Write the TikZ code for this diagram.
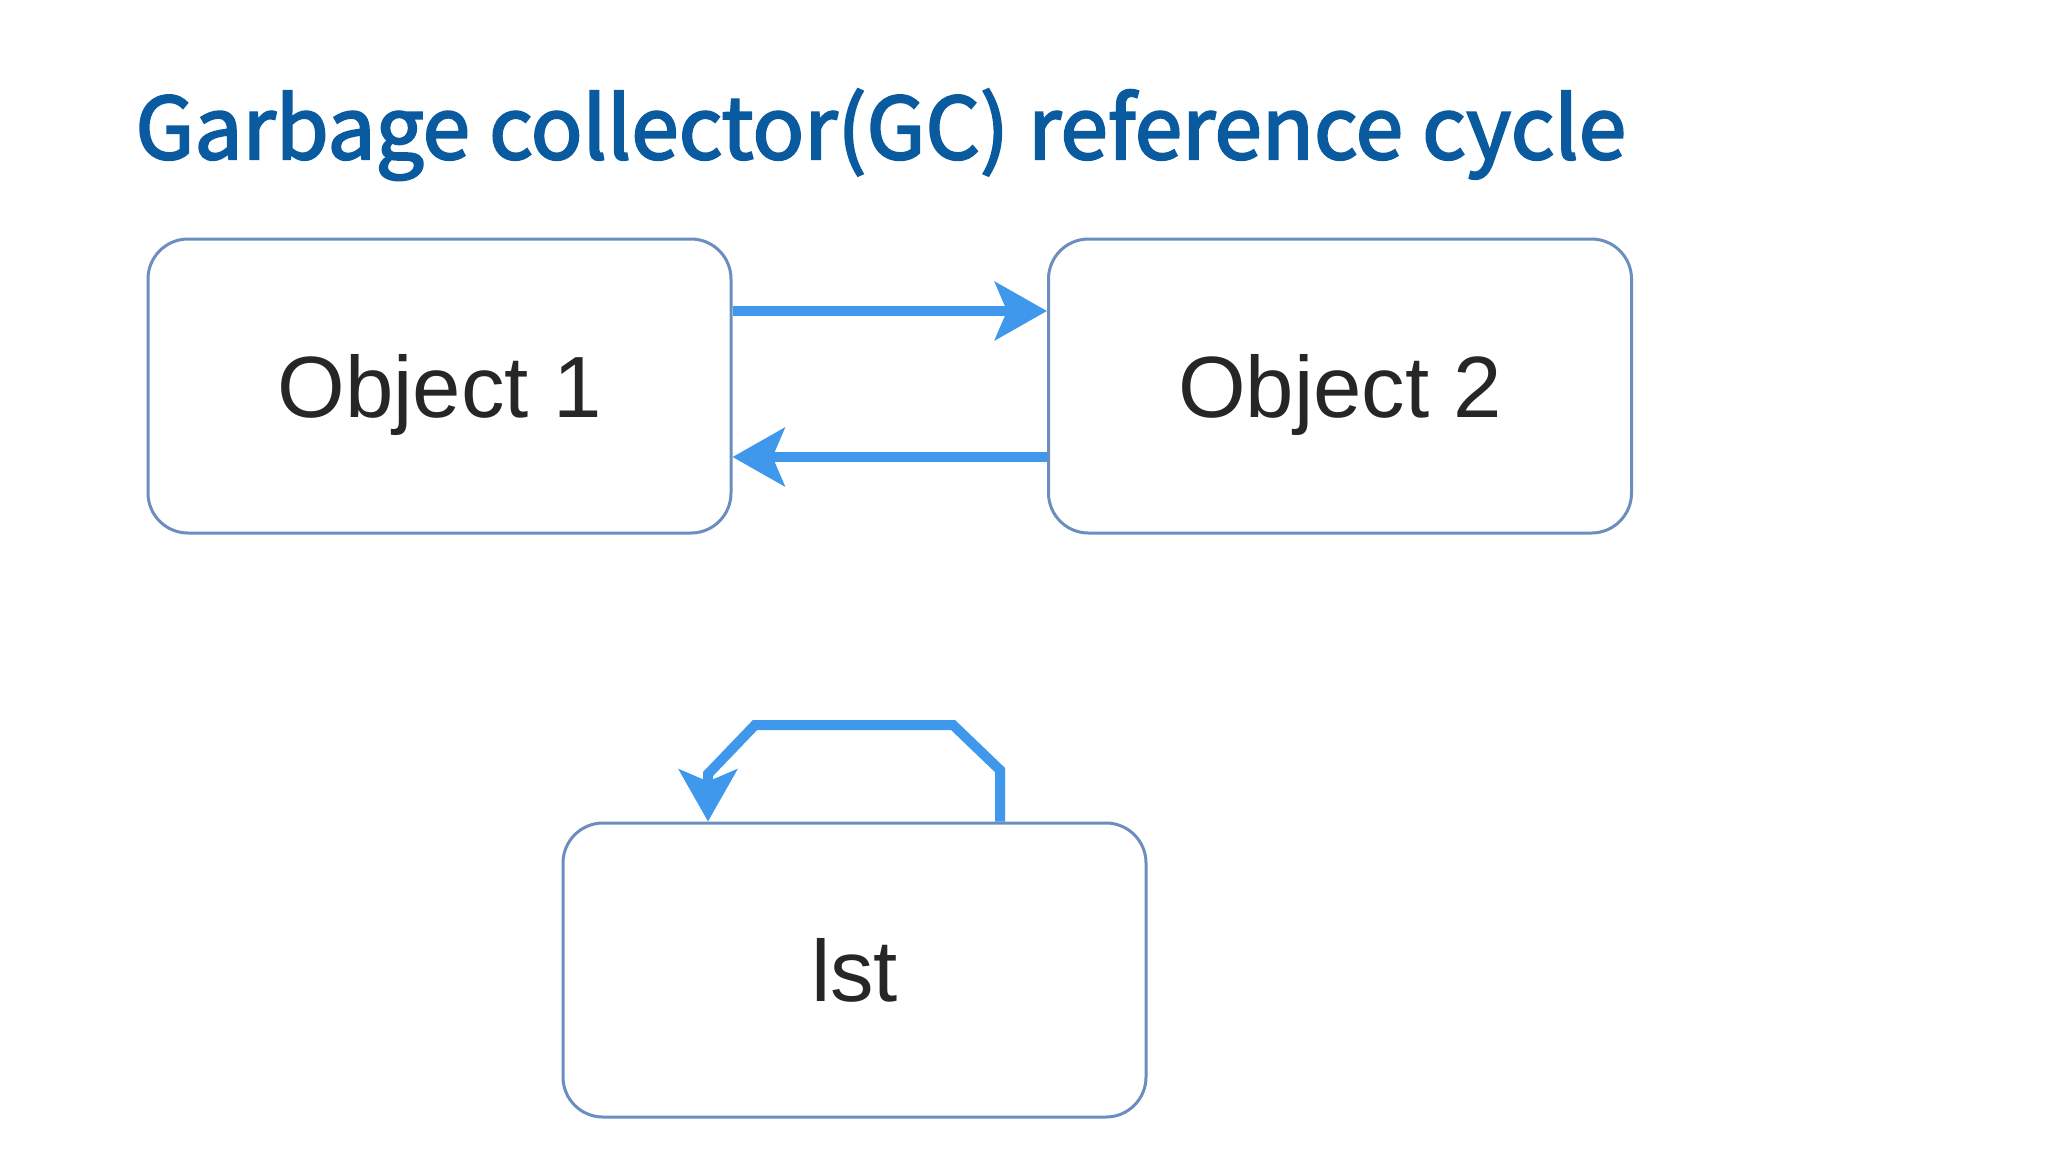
\documentclass[tikz,border=0pt]{standalone}
\usepackage{fontspec}
\setmainfont{Liberation Sans}
\newfontfamily\titlefont[FakeBold=2.5]{Noto Sans CJK KR}
\usetikzlibrary{arrows.meta}
\definecolor{titleblue}{HTML}{0A5AA0}
\definecolor{boxline}{HTML}{6C8EBF}
\definecolor{arrowblue}{HTML}{3F98EC}
\begin{document}
\begin{tikzpicture}[x=0.5pt,y=-0.5pt,
  objbox/.style={draw=boxline,line width=1.5pt,rounded corners=20pt,fill=white,
    minimum width=291.5pt,minimum height=147pt,inner sep=0pt,text height=31pt,text depth=0pt,
    font=\fontsize{43.5}{50}\selectfont,text=black!85},
  link/.style={draw=arrowblue,line width=5pt,-{Stealth[length=26pt,width=29pt,inset=6pt]}}]
\path[use as bounding box,fill=white] (0,0) rectangle (2048,1152);
\node[anchor=base west,text=titleblue,inner sep=0pt,font=\titlefont\fontsize{42.8}{50}\selectfont] (title) at (135,159) {Garbage collector(GC) reference cycle};
\node[objbox] (o1) at (439.5,386) {Object 1};
\node[objbox] (o2) at (1340,386) {Object 2};
\node[objbox] (lst) at (854.5,970) {lst};
\draw[link] (o1.east |- 0,311) -- (o2.west |- 0,311);
\draw[link] (o2.west |- 0,457) -- (o1.east |- 0,457);
\coordinate (la) at (1000,770);
\coordinate (lb) at (953,725);
\coordinate (lc) at (755,725);
\coordinate (ld) at (708,774);
\draw[link,line join=miter] (lst.north -| 1000,0) -- (la) -- (lb) -- (lc) -- (ld) -- (lst.north -| 708,0);
\end{tikzpicture}
\end{document}
